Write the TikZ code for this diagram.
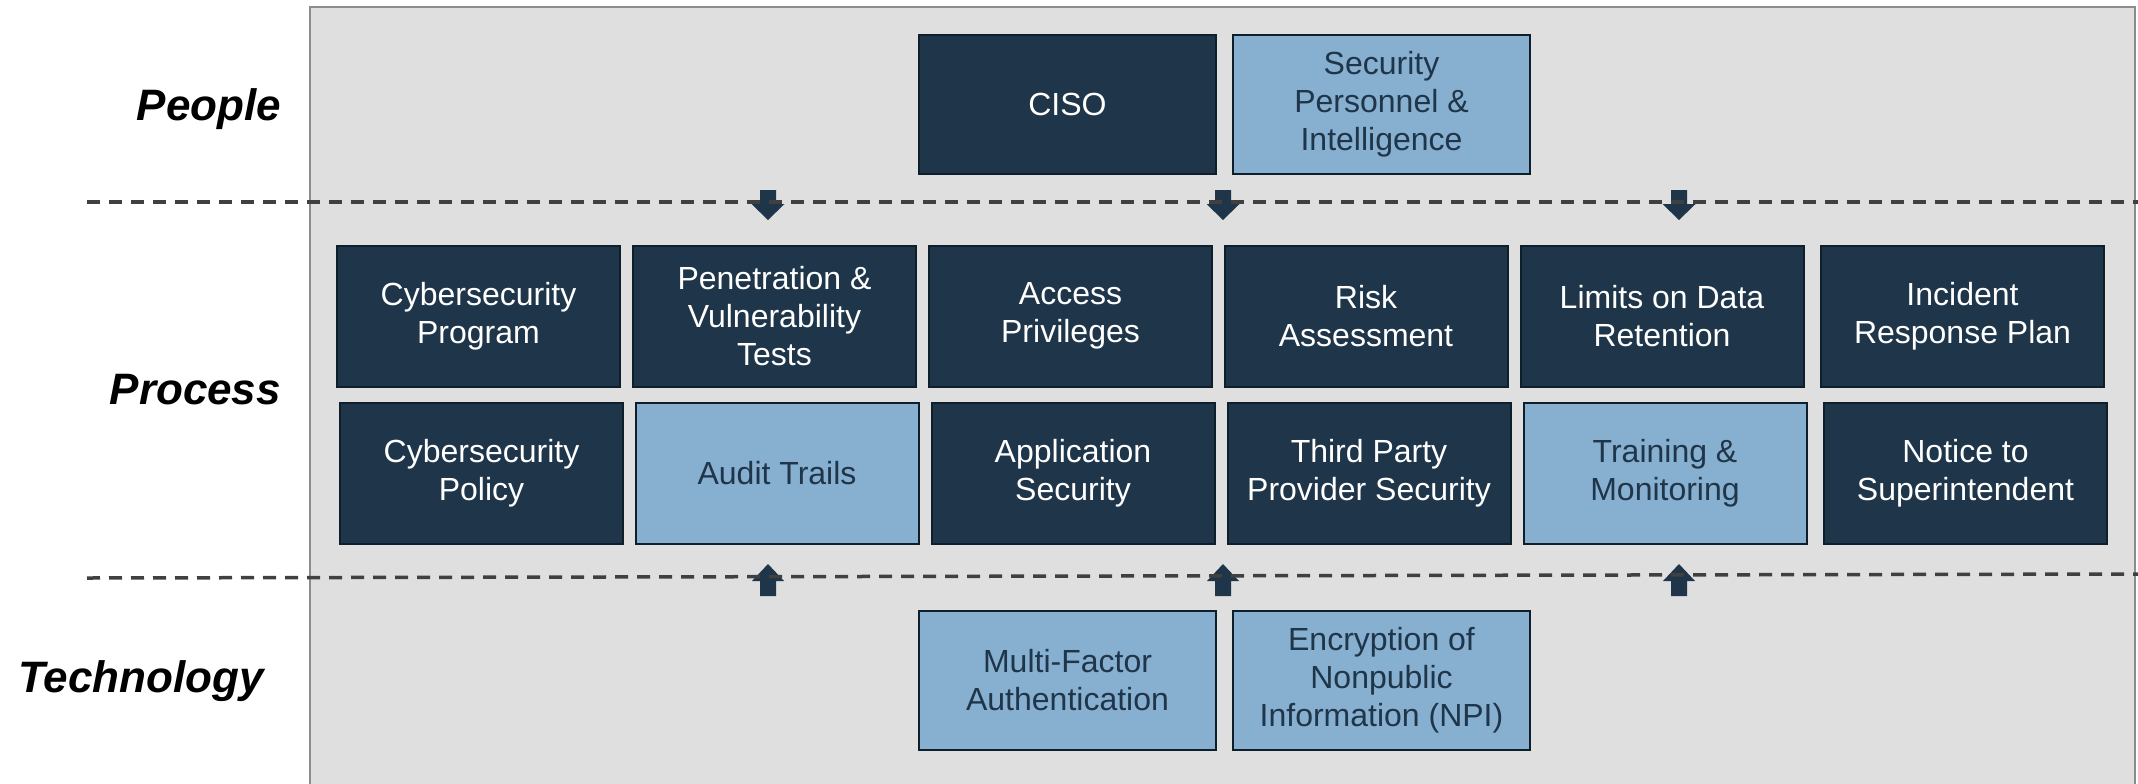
\documentclass[tikz,border=0pt]{standalone}
\usepackage{fontspec}
\setmainfont{Liberation Sans}
\usepackage{xcolor}
\usepackage{tikz}

\definecolor{navy}{HTML}{1F3549}
\definecolor{skyblue}{HTML}{87AFD0}
\definecolor{boxline}{HTML}{0F1E2B}
\definecolor{panelgray}{HTML}{DFDFDF}
\definecolor{paneledge}{HTML}{8C8C8C}
\definecolor{dashgray}{HTML}{404040}

\begin{document}
\begin{tikzpicture}[x=0.5pt,y=-0.5pt,
		box/.style={draw=boxline, line width=1pt, align=center, inner sep=0pt, font=\fontsize{16}{19}\selectfont},
		darkbox/.style={box, fill=navy, text=white, minimum width=141.5pt, minimum height=70.5pt},
		lightbox/.style={box, fill=skyblue, text=navy, minimum width=141.5pt, minimum height=70.5pt},
		wide/.style={minimum width=148.5pt, minimum height=69.5pt},
		lane/.style={anchor=east, font=\fontsize{22}{26}\selectfont\bfseries\itshape},
		sep/.style={dashgray, line width=1.75pt, dash pattern=on 6.5pt off 4.5pt}]
		\useasboundingbox (0,0) rectangle (2138,783);
		\filldraw[fill=panelgray, draw=paneledge, line width=1pt] (310,7) rectangle (2135,790);
		% lanes
		\node[lane] (people) at (288,109) {People};
		\node[lane] (process) at (288,390) {Process};
		\node[lane] (technology) at (271,681) {Technology};
		% people
		\node[darkbox, wide] (ciso) at (1067.5,104) {CISO};
		\node[lightbox, wide] (staff) at (1381.5,104) {Security\\Personnel \&\\Intelligence};
		% process, first row
		\node[darkbox] (prog) at (478.5,316) {Cybersecurity\\Program};
		\node[darkbox] (pentest) at (774.5,316) {Penetration \&\\Vulnerability\\Tests};
		\node[darkbox] (access) at (1070.5,316) {Access\\Privileges};
		\node[darkbox] (risk) at (1366,316) {Risk\\Assessment};
		\node[darkbox] (retention) at (1662,316) {Limits on Data\\Retention};
		\node[darkbox] (incident) at (1962.5,316) {Incident\\Response Plan};
		% process, second row
		\node[darkbox] (policy) at (481.5,473) {Cybersecurity\\Policy};
		\node[lightbox] (audit) at (777,473) {Audit Trails};
		\node[darkbox] (appsec) at (1073,473) {Application\\Security};
		\node[darkbox] (thirdparty) at (1369,473) {Third Party\\Provider Security};
		\node[lightbox] (training) at (1665,473) {Training \&\\Monitoring};
		\node[darkbox] (notice) at (1965.5,473) {Notice to\\Superintendent};
		% technology
		\node[lightbox, wide] (mfa) at (1067.5,680) {Multi-Factor\\Authentication};
		\node[lightbox, wide] (npi) at (1381.5,680) {Encryption of\\Nonpublic\\Information (NPI)};
		% block arrows
		\foreach \x in {768,1223,1679} {
			\fill[navy] (\x-8,190) -- (\x+8,190) -- (\x+8,204) -- (\x+16.5,204) -- (\x,220) -- (\x-16.5,204) -- (\x-8,204) -- cycle;
			\fill[navy] (\x,564) -- (\x+16,581) -- (\x+8,581) -- (\x+8,596) -- (\x-8,596) -- (\x-8,581) -- (\x-16,581) -- cycle;
		}
		\draw[sep] (87,202) -- (2138,202);
		\draw[sep] (87,578) -- (2138,574);
\end{tikzpicture}
\end{document}
